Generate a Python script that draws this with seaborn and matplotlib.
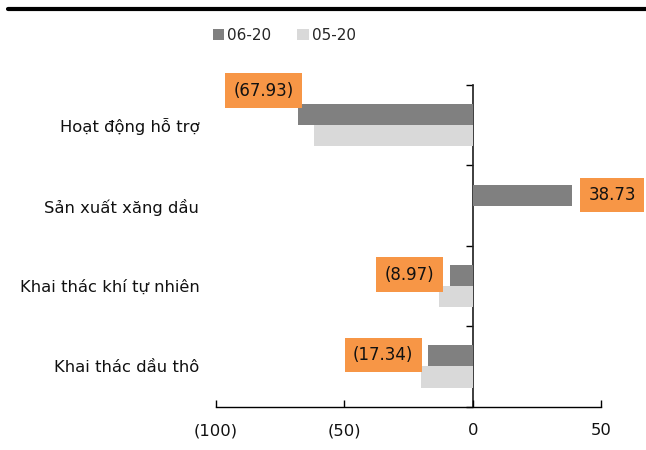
import matplotlib
matplotlib.use("Agg")
import matplotlib.pyplot as plt
from matplotlib.lines import Line2D
import seaborn as sns
import pandas as pd

# Sector names (top to bottom) and the two monthly series
categories = ["Hoạt động hỗ trợ", "Sản xuất xăng dầu",
              "Khai thác khí tự nhiên", "Khai thác dầu thô"]
series_names = ["06-20", "05-20"]
values_0620 = [-67.93, 38.73, -8.97, -17.34]
values_0520 = [-62.0, 0.0, -13.0, -20.0]
x_ticks = [-100, -50, 0, 50]
x_tick_labels = ["(100)", "(50)", "0", "50"]

colors = {"06-20": "#808080", "05-20": "#D9D9D9"}
label_face = "#F79646"

df = pd.DataFrame({
    "sector": categories * 2,
    "period": [series_names[0]] * 4 + [series_names[1]] * 4,
    "value": values_0620 + values_0520,
})

sns.set_theme(style="white")
plt.rcParams["font.family"] = ["DejaVu Sans"]

fig = plt.figure(figsize=(6.46, 4.5), dpi=100)
ax = fig.add_axes([0.3344, 0.0962, 0.9303 - 0.3344, 0.8111 - 0.0962])

sns.barplot(data=df, y="sector", x="value", hue="period", order=categories,
            hue_order=series_names, palette=colors, orient="h", width=0.525,
            saturation=1, edgecolor="none", linewidth=0, ax=ax)

ax.set_xlim(-100, 50)
ax.set_ylim(3.5, -0.5)
ax.set_xlabel("")
ax.set_ylabel("")

# bottom value axis with inward ticks
ax.set_xticks(x_ticks)
ax.set_xticklabels(x_tick_labels, fontsize=11.8, color="#111111")
ax.tick_params(axis="x", direction="in", length=5, width=1, color="black",
               pad=12, bottom=True)
ax.tick_params(axis="y", length=0, pad=12, labelsize=11.8, labelcolor="#111111")
for side in ["top", "right", "left"]:
    ax.spines[side].set_visible(False)
ax.spines["bottom"].set_color("black")
ax.spines["bottom"].set_linewidth(1)

# category axis drawn at x = 0 with ticks between groups
zero_pos = (0 - ax.get_xlim()[0]) / (ax.get_xlim()[1] - ax.get_xlim()[0])
sec = ax.secondary_yaxis(zero_pos)
sec.set_yticks([-0.5, 0.5, 1.5, 2.5, 3.5])
sec.set_yticklabels([])
sec.tick_params(direction="in", length=5, width=1, color="black")
sec.spines["left"].set_color("black")
sec.spines["left"].set_linewidth(1)

# value labels on the 06-20 bars
def fmt(v):
    return f"({abs(v):.2f})" if v < 0 else f"{v:.2f}"

label_offsets = {0: (-35, 24), 1: (40, 0), 2: (-40, 1), 3: (-45, 1)}
bars_0620 = ax.containers[0]
for i, (bar, v) in enumerate(zip(bars_0620, values_0620)):
    yc = bar.get_y() + bar.get_height() / 2
    dx, dy = label_offsets[i]
    ax.annotate(fmt(v), xy=(v, yc), xytext=(dx, dy), textcoords="offset pixels",
                ha="center", va="center", fontsize=12, color="#111111",
                bbox=dict(boxstyle="square,pad=0.5", fc=label_face, ec="none"),
                annotation_clip=False)

# legend above the plot
sns.move_legend(ax, "center", bbox_to_anchor=(0.44, 0.922),
                bbox_transform=fig.transFigure, ncol=2, frameon=False,
                title=None, fontsize=11, handlelength=0.75, handleheight=0.75,
                handletextpad=0.2, columnspacing=1.7)

# heavy rule across the top of the figure
fig.add_artist(Line2D([0.012, 1.0], [0.98, 0.98], transform=fig.transFigure,
                      color="black", linewidth=3))

fig.savefig("out.png", dpi=100)
